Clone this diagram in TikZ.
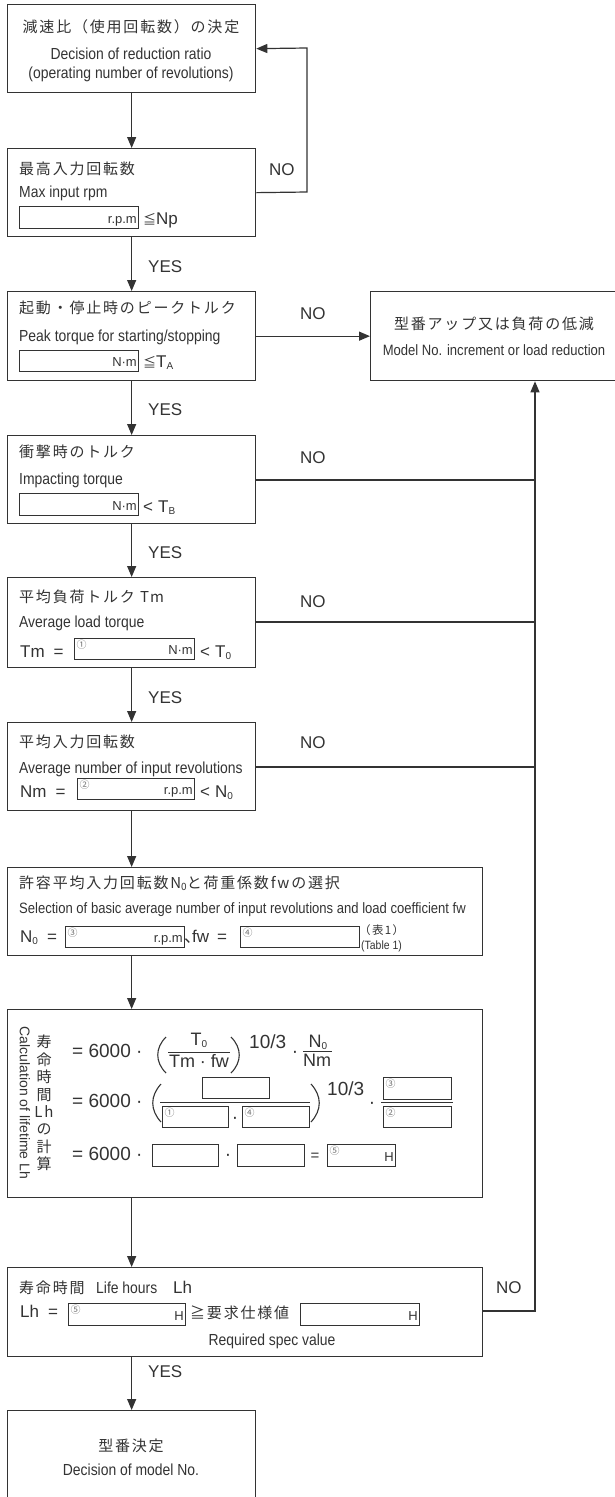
\documentclass[tikz,border=0pt]{standalone}
\usepackage{fontspec}
\setmainfont{Liberation Sans}
\newfontfamily\jpfont[LetterSpace=12]{Noto Sans CJK JP}
\newfontfamily\nwfont[FakeStretch=0.87]{Liberation Sans}
\usetikzlibrary{arrows.meta}
\definecolor{ink}{HTML}{333333}
\newcommand{\lowsub}[1]{\raisebox{-0.3ex}{\fontsize{10}{10}\selectfont #1}}
\newcommand{\jle}{\makebox[13pt][l]{\jpfont\fontsize{13}{13}\selectfont ≦}}
\tikzset{
	stepbox/.style={draw=ink, line width=1.3pt, inner sep=0pt, anchor=north west},
	valbox/.style={draw=ink, line width=1pt, inner sep=0pt, anchor=north west},
	jp/.style={font=\jpfont\fontsize{15}{17}\selectfont, text=ink, inner sep=0pt},
	en/.style={font=\nwfont\fontsize{16}{18}\selectfont, text=ink, inner sep=0pt},
	rg/.style={font=\fontsize{17}{19}\selectfont, text=ink, inner sep=0pt},
	fm/.style={font=\fontsize{19}{21}\selectfont, text=ink, inner sep=0pt},
	unit/.style={font=\fontsize{13}{13}\selectfont, text=ink, inner sep=0pt},
	circ/.style={font=\jpfont\fontsize{10}{10}\selectfont, text=ink!70, inner sep=0pt},
	flow/.style={draw=ink, line width=1.2pt, -{Triangle[length=11pt,width=9pt]}},
	link/.style={draw=ink, line width=1.2pt},
	fracline/.style={draw=ink, line width=1pt},
	paren/.style={draw=ink, line width=1.1pt}
}
\begin{document}
\begin{tikzpicture}[x=1pt,y=-1pt]
					\useasboundingbox (0,0) rectangle (614,1497);

					\node[stepbox, minimum width=248pt, minimum height=88pt] (b1) at (7,4) {};
					\node[stepbox, minimum width=248pt, minimum height=88pt] (b2) at (7,148) {};
					\node[stepbox, minimum width=248pt, minimum height=89pt] (b3) at (7,291) {};
					\node[stepbox, minimum width=248pt, minimum height=88pt] (b4) at (7,435) {};
					\node[stepbox, minimum width=248pt, minimum height=90pt] (b5) at (7,577) {};
					\node[stepbox, minimum width=248pt, minimum height=88pt] (b6) at (7,722) {};
					\node[stepbox, minimum width=475pt, minimum height=88pt] (b7) at (7,867) {};
					\node[stepbox, minimum width=475pt, minimum height=188pt] (b8) at (7,1009) {};
					\node[stepbox, minimum width=475pt, minimum height=89pt] (b9) at (7,1267) {};
					\node[stepbox, minimum width=248pt, minimum height=120pt] (b10) at (7,1410) {};
					\node[stepbox, minimum width=260pt, minimum height=89pt] (rb) at (370,291) {};

					\foreach \nm/\vx/\vy/\vw/\vh/\vu/\vm in {v2/19/206/119/22/r.p.m/, v3/19/350/119/21/N·m/, v4/19/493/119/22/N·m/,
							v5/74/638/120/21/N·m/①, v6/77/778/117/21/r.p.m/②, v7a/65/926/119/21/r.p.m/③, v7b/240/926/119/21//④,
							v8a/202/1077/67/21//, v8b/162/1106/66/21//①, v8c/242/1106/67/21//④, v8d/383/1077/68/22//③,
							v8e/383/1106/68/21//②, v8f/152/1144/66/22//, v8g/237/1144/67/22//, v8h/327/1144/68/22/H/⑤,
							v9a/68/1303/117/22/H/⑤, v9b/300/1303/119/22/H/}{
							\node[valbox, minimum width=\vw pt, minimum height=\vh pt] (\nm) at (\vx,\vy) {};
							\node[unit, anchor=base east] (\nm-u) at ([shift={(-2pt,5.5pt)}]\nm.south east) {\vu};
							\node[circ, anchor=north west] (\nm-c) at ([shift={(2.5pt,-2pt)}]\nm.north west) {\vm};
						}

					\node[jp] (t1a) at (131,27) {減速比（使用回転数）の決定};
					\node[en, anchor=base] (t1b) at (131,59) {Decision of reduction ratio};
					\node[en, anchor=base] (t1c) at (131,78) {(operating number of revolutions)};

					\node[jp, anchor=west] (t2a) at (19,169) {最高入力回転数};
					\node[en, anchor=base west] (t2b) at (19,197) {Max input rpm};
					\node[rg, anchor=base west] (t2c) at (143,224) {\jle Np};

					\node[jp, anchor=west] (t3a) at (19,308) {起動・停止時のピークトルク};
					\node[en, anchor=base west] (t3b) at (19,341) {Peak torque for starting/stopping};
					\node[rg, anchor=base west] (t3c) at (143,367) {\jle T\lowsub{A}};

					\node[jp, anchor=west] (t4a) at (19,452) {衝撃時のトルク};
					\node[en, anchor=base west] (t4b) at (19,484) {Impacting torque};
					\node[rg, anchor=base west] (t4c) at (143,512) {<\hspace{5pt}T\lowsub{B}};

					\node[jp, anchor=west] (t5a) at (19,597) {平均負荷トルク Tm};
					\node[en, anchor=base west] (t5b) at (19,627) {Average load torque};
					\node[rg, anchor=base west] (t5c) at (20,657) {Tm\hspace{9pt}=};
					\node[rg, anchor=base west] (t5d) at (200,657) {<\hspace{5pt}T\lowsub{0}};

					\node[jp, anchor=west] (t6a) at (19,742) {平均入力回転数};
					\node[en, anchor=base west] (t6b) at (19,773) {Average number of input revolutions};
					\node[rg, anchor=base west] (t6c) at (20,797) {Nm\hspace{9pt}=};
					\node[rg, anchor=base west] (t6d) at (200,797) {<\hspace{5pt}N\lowsub{0}};

					\node[jp, anchor=west] (t7a) at (19,883) {許容平均入力回転数N\lowsub{0}と荷重係数fwの選択};
					\node[en, font=\nwfont\fontsize{15}{17}\selectfont, anchor=base west] (t7b) at (19,913) {Selection of basic average number of input revolutions and load coefficient fw};
					\node[rg, anchor=base west] (t7c) at (20,942) {N\lowsub{0}\hspace{9pt}=};
					\node[rg, anchor=base west] (t7d) at (184,942) {\makebox[8pt][l]{\jpfont 、}fw\hspace{8pt}=};
					\node[jp, font=\jpfont\fontsize{11.5}{12}\selectfont, anchor=west] (t7e) at (359,930) {（表1）};
					\node[en, font=\nwfont\fontsize{12}{12}\selectfont, anchor=west] (t7f) at (361,946) {(Table 1)};

					\node[rg, font=\fontsize{14}{14}\selectfont, rotate=-90] (t8a) at (25,1103) {Calculation of lifetime Lh};
					\node[jp, align=center, font=\jpfont\fontsize{15}{17.4}\selectfont] (t8b) at (44,1103) {寿\\命\\時\\間\\Lh\\の\\計\\算};

					\node[fm, anchor=base west] (r1a) at (72,1057) {= 6000 ·};
					\draw[paren] (166,1037) .. controls (155,1048) and (155,1062) .. (166,1073);
					\draw[paren] (231,1037) .. controls (242,1048) and (242,1062) .. (231,1073);
					\node[fm, font=\fontsize{18}{20}\selectfont, anchor=base] (r1n) at (199,1045) {T\lowsub{0}};
					\draw[fracline] (168,1052) -- (230,1052);
					\node[fm, font=\fontsize{18}{20}\selectfont, anchor=base] (r1d) at (199,1067) {Tm · fw};
					\node[fm, anchor=base west] (r1e) at (249,1048) {10/3};
					\node[fm, anchor=base] (r1f) at (295,1057) {·};
					\node[fm, font=\fontsize{18}{20}\selectfont, anchor=base] (r1g) at (318,1047) {N\lowsub{0}};
					\draw[fracline] (303,1051) -- (332,1051);
					\node[fm, font=\fontsize{18}{20}\selectfont, anchor=base] (r1h) at (317,1066) {Nm};

					\node[fm, anchor=base west] (r2a) at (72,1107) {= 6000 ·};
					\draw[paren] (161,1084) .. controls (150,1096) and (150,1110) .. (161,1122);
					\draw[paren] (311,1084) .. controls (322,1096) and (322,1110) .. (311,1122);
					\draw[fracline] (160,1102) -- (310,1102);
					\node[fm, anchor=base] (r2b) at (235,1123) {·};
					\node[fm, anchor=base west] (r2c) at (327,1095) {10/3};
					\node[fm, anchor=base] (r2d) at (372,1108) {·};
					\draw[fracline] (381,1102) -- (453,1102);

					\node[fm, anchor=base west] (r3a) at (72,1160) {= 6000 ·};
					\node[fm, anchor=base] (r3b) at (228,1160) {·};
					\node[fm, font=\fontsize{15}{15}\selectfont, anchor=base] (r3c) at (315,1160) {=};

					\node[jp, anchor=west] (t9a) at (19,1288) {寿命時間};
					\node[en, anchor=base west] (t9b) at (96,1293) {Life hours};
					\node[rg, anchor=base west] (t9c) at (173,1293) {Lh};
					\node[rg, anchor=base west] (t9d) at (20,1317) {Lh\hspace{9pt}=};
					\node[jp, anchor=west] (t9e) at (190,1313) {≧要求仕様値};
					\node[en, anchor=base] (t9f) at (272,1345) {Required spec value};

					\node[jp] (t10a) at (131,1446) {型番決定};
					\node[en, anchor=base] (t10b) at (131,1475) {Decision of model No.};

					\node[jp] (tra) at (494,324) {型番アップ又は負荷の低減};
					\node[en, font=\nwfont\fontsize{15}{17}\selectfont, anchor=base] (trb) at (494,355) {Model No. increment or load reduction};

					\foreach \y in {272,415,558,703,1377}{
							\node[rg, anchor=base west] (yes\y) at (148,\y) {YES};
						}
					\foreach \x/\y in {269/175,300/319,300/463,300/607,300/748,496/1293}{
							\node[rg, anchor=base west] (no\y) at (\x,\y) {NO};
						}

					\foreach \a/\b in {b1/b2,b2/b3,b3/b4,b4/b5,b5/b6,b6/b7,b7/b8,b8/b9,b9/b10}{
							\draw[flow] (b1.south |- \a.south) -- (b1.south |- \b.north);
						}

					\coordinate (l1) at (307,48);
					\coordinate (l2) at (307,192);
					\draw[flow] (b2.east) -- (l2) -- (l1) -- (b1.east);
					\draw[flow] (b3) -- (rb);

					\coordinate (j4) at (535,480);
					\coordinate (j5) at (535,622);
					\coordinate (j6) at (535,767);
					\coordinate (j9) at (535,1311);
					\foreach \n in {4,5,6}{
							\draw[link] (b\n.east |- j\n) -- (j\n);
						}
					\draw[flow] (b9.east |- j9) -- (j9) -- (rb.south -| j9);

				\end{tikzpicture}
\end{document}
